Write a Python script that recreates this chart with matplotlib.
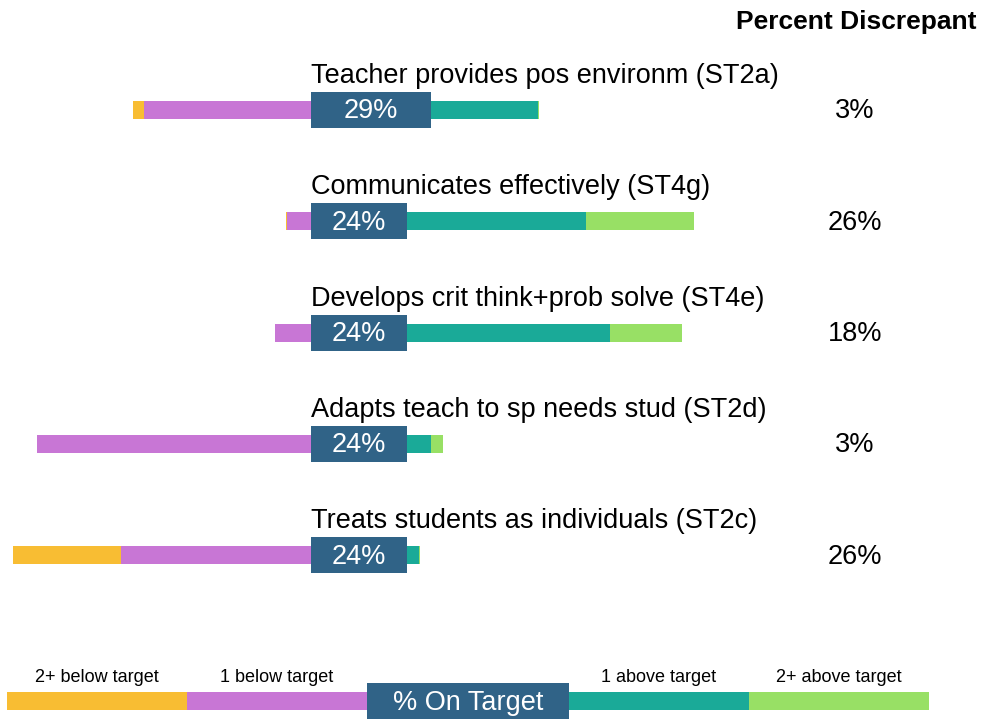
import numpy as np
import matplotlib
matplotlib.use('Agg')
import matplotlib.pyplot as plt

plt.rcParams['font.family'] = ['Liberation Sans', 'DejaVu Sans']

# Data (percent of ratings per category)
items = ['Teacher provides pos environm (ST2a)',
         'Communicates effectively (ST4g)',
         'Develops crit think+prob solve (ST4e)',
         'Adapts teach to sp needs stud (ST2d)',
         'Treats students as individuals (ST2c)']
below2 = [2.7, 0.3, 0.0, 0.0, 26.5]
below1 = [41.0, 5.9, 8.8, 67.3, 46.7]
on_target = [29.5, 23.6, 23.6, 23.6, 23.6]
above1 = [26.3, 44.0, 49.9, 5.9, 2.9]
above2 = [0.3, 26.5, 17.7, 2.9, 0.3]
on_labels = ['29%', '24%', '24%', '24%', '24%']
discrepant = ['3%', '26%', '18%', '3%', '26%']

legend_names = ['2+ below target', '1 below target', '% On Target',
                '1 above target', '2+ above target']

C_B2 = '#f8bd33'
C_B1 = '#c876d5'
C_ON = '#306387'
C_A1 = '#1aaa98'
C_A2 = '#98e065'

# pixel scale helpers (figure is 983 x 719 px)
PX = 4.07          # px per percent
X0 = 311           # px position of on-target box start
RY = 111.25        # px per row
Y0 = 110           # px centre of first row

fig = plt.figure(figsize=(9.83, 7.19), dpi=100)
ax = fig.add_axes([0, 0, 1, 1])
ax.set_xlim(-X0 / PX, (983 - X0) / PX)
ax.set_ylim((719 - Y0) / RY, -Y0 / RY)
ax.axis('off')

bar_h = 18 / RY
box_h = 36 / RY
y = np.arange(len(items))
b2 = np.array(below2)
b1 = np.array(below1)
on = np.array(on_target)
a1 = np.array(above1)
a2 = np.array(above2)

ax.barh(y, b1, left=-b1, height=bar_h, color=C_B1, linewidth=0)
ax.barh(y, b2, left=-b1 - b2, height=bar_h, color=C_B2, linewidth=0)
ax.barh(y, a1, left=on, height=bar_h, color=C_A1, linewidth=0)
ax.barh(y, a2, left=on + a1, height=bar_h, color=C_A2, linewidth=0)
ax.barh(y, on, left=0, height=box_h, color=C_ON, linewidth=0, zorder=3)

for i in range(len(items)):
    ax.text(0, i - 34 / RY, items[i], fontsize=19.5, ha='left', va='center')
    ax.text(on[i] / 2, i + 1.5 / RY, on_labels[i], fontsize=19.5, color='white',
            ha='center', va='center', zorder=4)
    ax.text((855 - X0) / PX, i + 1.5 / RY, discrepant[i], fontsize=19.5,
            ha='center', va='center')

ax.text((977 - X0) / PX, (22 - Y0) / RY, 'Percent Discrepant', fontsize=19,
        fontweight='bold', ha='right', va='center')

# legend strip
ly = (701 - Y0) / RY
seg = 180 / PX
boxw = 202 / PX
lx = (7 - X0) / PX
lefts = [lx, lx + seg, lx + 2 * seg, lx + 2 * seg + boxw, lx + 3 * seg + boxw]
widths = [seg, seg, boxw, seg, seg]
colors = [C_B2, C_B1, C_ON, C_A1, C_A2]
for k in range(5):
    h = box_h if k == 2 else bar_h
    ax.barh(ly, widths[k], left=lefts[k], height=h, color=colors[k],
            linewidth=0, zorder=3 if k == 2 else 2)
    if k == 2:
        ax.text(lefts[k] + widths[k] / 2, ly + 1.5 / RY, legend_names[k],
                fontsize=19.5, color='white', ha='center', va='center', zorder=4)
    else:
        ax.text(lefts[k] + widths[k] / 2, (677 - Y0) / RY, legend_names[k],
                fontsize=13, ha='center', va='center')

fig.savefig('out.png', dpi=100)
